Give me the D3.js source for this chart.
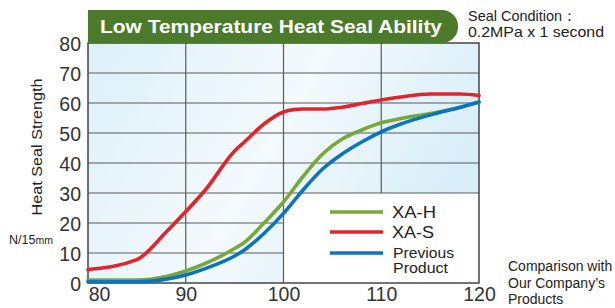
<!DOCTYPE html>
<html><head><meta charset="utf-8">
<script src="https://cdn.jsdelivr.net/npm/d3@7"></script>
<style>
html,body{margin:0;padding:0;background:#fff;}
svg{display:block;font-family:"Liberation Sans",Arial,sans-serif;}
</style></head>
<body>
<svg id="c" width="615" height="308"></svg>
<script>
const xTicks = [80, 90, 100, 110, 120];
const yTicks = [0, 10, 20, 30, 40, 50, 60, 70, 80];
const temps   = [80, 85, 88, 90, 92, 95, 96, 98, 100, 101, 102, 104, 106, 108, 110, 112, 115, 118, 120];
const xaS     = [4.5, 7.8, 17, 23.8, 31, 44, 47, 53, 57, 57.8, 58, 58, 58.6, 59.8, 61, 62, 63, 63, 62.5];
const tempsH  = [80, 85, 88, 90, 92, 95, 96, 98, 100, 102, 104, 106, 108, 110, 112, 115, 118, 120];
const xaH     = [1, 1, 2.2, 4, 6.5, 11.5, 13.5, 20, 27, 35.5, 43, 48, 51, 53.4, 54.8, 56.5, 58.5, 60.3];
const prev    = [0.4, 0.4, 1.3, 2.7, 4.8, 9, 11, 16.5, 23.2, 31, 38, 43, 47, 50.4, 53, 56, 58.5, 60.3];
const seriesNames = ["XA-H", "XA-S", "Previous Product"];
const colors = {"XA-H":"#76a83a", "XA-S":"#e0262c", "Previous Product":"#0a74c0"};

const svg = d3.select("#c");
const L = 88, R = 479, T = 43, B = 283;
const x = d3.scaleLinear().domain([80,120]).range([L,R]);
const y = d3.scaleLinear().domain([0,80]).range([B,T]);

const defs = svg.append("defs");
const g = defs.append("linearGradient").attr("id","bg").attr("x1","0").attr("y1","0").attr("x2","1").attr("y2","0.35");
g.append("stop").attr("offset","0").attr("stop-color","#dcf0f9");
g.append("stop").attr("offset","0.55").attr("stop-color","#f4fafd");
g.append("stop").attr("offset","1").attr("stop-color","#d8eef8");

// background
svg.append("rect").attr("x",L).attr("y",T).attr("width",R-L).attr("height",B-T).attr("fill","url(#bg)");
// legend white area
svg.append("rect").attr("x",x(100)).attr("y",y(30)).attr("width",x(120)-x(100)).attr("height",y(0)-y(30)).attr("fill","#fff");

// grid
const grid = svg.append("g").attr("stroke","#5a5a5a").attr("stroke-width",1.2);
[10,20].forEach(v=>grid.append("line").attr("x1",L).attr("x2",x(100)).attr("y1",y(v)).attr("y2",y(v)));
[30,40,50,60,70].forEach(v=>grid.append("line").attr("x1",L).attr("x2",R).attr("y1",y(v)).attr("y2",y(v)));
[90,100].forEach(v=>grid.append("line").attr("x1",x(v)).attr("x2",x(v)).attr("y1",T).attr("y2",B));
grid.append("line").attr("x1",x(110)).attr("x2",x(110)).attr("y1",T).attr("y2",y(30));

// frame
svg.append("rect").attr("x",L).attr("y",T).attr("width",R-L).attr("height",B-T).attr("fill","none").attr("stroke","#444").attr("stroke-width",1.5);

// title banner
const bx0 = L, bx1 = 458, by0 = 10, by1 = 43, r = 16;
svg.append("path").attr("d",`M${bx0},${by0} H${bx1-r} A${r},${r} 0 0 1 ${bx1},${by0+r} V${by1-r} A${r},${r} 0 0 1 ${bx1-r},${by1} H${bx0} Z`).attr("fill","#4b7a2b");
svg.append("text").attr("x",100).attr("y",32.5).attr("fill","#fff").attr("font-weight","bold").attr("font-size",18)
  .attr("textLength",342).attr("lengthAdjust","spacingAndGlyphs").text("Low Temperature Heat Seal Ability");

// axes labels
const axY = d3.axisLeft(y).tickValues(yTicks).tickSize(0).tickPadding(7);
const gy = svg.append("g").attr("transform",`translate(${L},0)`).call(axY);
gy.select(".domain").remove();
gy.selectAll("text").attr("font-size",19.5).attr("fill","#333").attr("font-family","Liberation Sans, Arial, sans-serif").attr("dy","0.36em");
const axX = d3.axisBottom(x).tickValues(xTicks).tickSize(0).tickPadding(6);
const gx = svg.append("g").attr("transform",`translate(0,${B})`).call(axX);
gx.select(".domain").remove();
gx.selectAll("text").attr("font-size",19.5).attr("fill","#333").attr("font-family","Liberation Sans, Arial, sans-serif").attr("dy","0.62em");
gx.selectAll(".tick").filter(d=>d===80).select("text").attr("x",11);

// curves
const line = (xs) => d3.line().x((d,i)=>x(xs[i])).y(d=>y(d)).curve(d3.curveMonotoneX);
const data = [["XA-H", tempsH, xaH], ["Previous Product", tempsH, prev], ["XA-S", temps, xaS]];
data.forEach(([n, xs, ys])=>{
  svg.append("path").attr("d", line(xs)(ys)).attr("fill","none").attr("stroke",colors[n]).attr("stroke-width",3.6).attr("stroke-linecap","round").attr("stroke-linejoin","round");
});

// legend
const legY = [212, 232, 253];
seriesNames.forEach((n,i)=>{
  svg.append("line").attr("x1",330).attr("x2",383).attr("y1",legY[i]).attr("y2",legY[i]).attr("stroke",colors[n]).attr("stroke-width",3.6);
});
svg.append("text").attr("x",392).attr("y",217.5).attr("font-size",16.5).attr("fill","#222").attr("textLength",44).attr("lengthAdjust","spacingAndGlyphs").text("XA-H");
svg.append("text").attr("x",392).attr("y",238).attr("font-size",16.5).attr("fill","#222").attr("textLength",42).attr("lengthAdjust","spacingAndGlyphs").text("XA-S");
svg.append("text").attr("x",393).attr("y",258).attr("font-size",14).attr("fill","#222").attr("textLength",61).attr("lengthAdjust","spacingAndGlyphs").text("Previous");
svg.append("text").attr("x",393).attr("y",273).attr("font-size",14).attr("fill","#222").attr("textLength",55).attr("lengthAdjust","spacingAndGlyphs").text("Product");

// y title
svg.append("text").attr("transform","translate(42,147) rotate(-90)").attr("text-anchor","middle").attr("font-size",15.5).attr("fill","#222")
  .attr("textLength",137).attr("lengthAdjust","spacingAndGlyphs").text("Heat Seal Strength");
const nt = svg.append("text").attr("x",9).attr("y",244).attr("font-size",12.5).attr("fill","#222");
nt.append("tspan").text("N/15");
nt.append("tspan").attr("font-size",10.5).text("mm");

// annotations
svg.append("text").attr("x",468).attr("y",21).attr("font-size",14.5).attr("fill","#222").attr("textLength",109).attr("lengthAdjust","spacingAndGlyphs").text("Seal Condition\uFF1A");
svg.append("text").attr("x",468).attr("y",37).attr("font-size",14.5).attr("fill","#222").attr("textLength",136).attr("lengthAdjust","spacingAndGlyphs").text("0.2MPa x 1 second");
["Comparison with","Our Company\u2019s","Products"].forEach((t,i)=>{
  svg.append("text").attr("x",508).attr("y",271+i*16.5).attr("font-size",14).attr("fill","#222").text(t);
});
</script>
</body></html>
